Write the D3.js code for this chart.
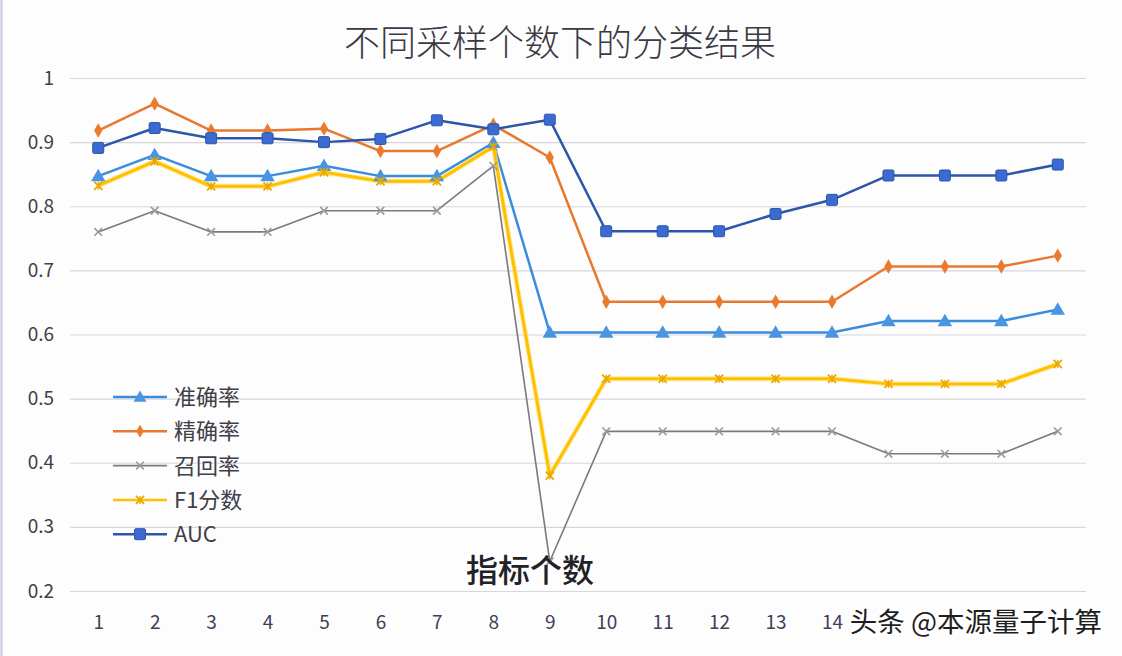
<!DOCTYPE html>
<html><head><meta charset="utf-8">
<script src="https://cdn.jsdelivr.net/npm/d3@7"></script>
<style>
html,body{margin:0;padding:0;background:#fdfdfe;}
svg{display:block;}
text{font-family:"Noto Sans CJK SC","Noto Sans",sans-serif;}
</style></head><body>
<svg id="chart" width="1122" height="656"></svg>
<script>
const categories = [1,2,3,4,5,6,7,8,9,10,11,12,13,14,15,16,17,18];
const xTickLabels = [1,2,3,4,5,6,7,8,9,10,11,12,13,14];
const yTicks = [0.2,0.3,0.4,0.5,0.6,0.7,0.8,0.9,1];
const seriesNames = ["准确率","精确率","召回率","F1分数","AUC"];
const accuracy  = [0.847,0.880,0.847,0.847,0.863,0.847,0.847,0.899,0.603,0.603,0.603,0.603,0.603,0.603,0.621,0.621,0.621,0.639];
const precision = [0.918,0.960,0.918,0.918,0.921,0.886,0.886,0.927,0.876,0.651,0.651,0.651,0.651,0.651,0.706,0.706,0.706,0.723];
const recall    = [0.760,0.793,0.760,0.760,0.793,0.793,0.793,0.863,0.246,0.449,0.449,0.449,0.449,0.449,0.414,0.414,0.414,0.449];
const f1        = [0.832,0.870,0.831,0.831,0.853,0.839,0.839,0.893,0.380,0.531,0.531,0.531,0.531,0.531,0.523,0.523,0.523,0.554];
const auc       = [0.891,0.922,0.906,0.906,0.900,0.905,0.934,0.920,0.935,0.761,0.761,0.761,0.788,0.810,0.848,0.848,0.848,0.865];
const title = "不同采样个数下的分类结果";
const xTitle = "指标个数";
const watermark = "头条 @本源量子计算";

const series = [
  {name:seriesNames[0], values:accuracy,  line:"#3b8ddb", fill:"#4a95e3", marker:"triangle", w:2.5},
  {name:seriesNames[1], values:precision, line:"#e8782f", fill:"#ea7a2c", marker:"diamond",  w:2.5},
  {name:seriesNames[2], values:recall,    line:"#7a7a7a", fill:"#9a9a9a", marker:"x",        w:1.6},
  {name:seriesNames[3], values:f1,        line:"#ffc000", fill:"#ffc000", marker:"star",     w:3},
  {name:seriesNames[4], values:auc,       line:"#2c56a8", fill:"#3a6ad2", marker:"square",   w:2.5}
];

const svg = d3.select("#chart");
svg.append("rect").attr("x",0).attr("y",0).attr("width",1122).attr("height",656).attr("fill","#fdfdfe");
svg.append("line").attr("x1",1.5).attr("x2",1.5).attr("y1",0).attr("y2",656).attr("stroke","#c9c6dc").attr("stroke-width",2);

const x = d3.scalePoint().domain(categories).range([70,1086]).padding(0.5);
const y = d3.scaleLinear().domain([0.2,1]).range([591,78]);

// gridlines
const yAxis = d3.axisLeft(y).tickValues(yTicks).tickSize(-(1086-70)).tickFormat(d=>d3.format("")(+d.toFixed(1)));
const gy = svg.append("g").attr("transform","translate(70,0)").call(yAxis);
gy.select(".domain").remove();
gy.selectAll(".tick line").attr("stroke","#d6d6de").attr("stroke-width",1.2);
gy.selectAll(".tick text").attr("x",-16).attr("fill","#404048").attr("font-size",19).attr("font-family","'Noto Sans','Open Sans',sans-serif");

// x axis
const xAxis = d3.axisBottom(x).tickValues(xTickLabels).tickSize(0).tickPadding(0);
const gx = svg.append("g").attr("transform","translate(0,622)").call(xAxis);
gx.select(".domain").remove();
gx.selectAll(".tick text").attr("dy","0.35em").attr("fill","#404055").attr("font-size",19).attr("font-family","'Noto Sans','Open Sans',sans-serif");

// title
svg.append("text").attr("x",560).attr("y",56).attr("text-anchor","middle")
  .attr("font-size",36).attr("font-weight",300).attr("fill","#3a3a44").text(title);

function drawMarker(g, type, cx, cy, color, s){
  if(type==="triangle"){
    g.append("path").attr("d",d3.symbol(d3.symbolTriangle, s*s*0.9)()).attr("transform",`translate(${cx},${cy+1})`).attr("fill",color);
  } else if(type==="diamond"){
    g.append("path").attr("d",d3.symbol(d3.symbolDiamond, s*s*0.6)()).attr("transform",`translate(${cx},${cy})`).attr("fill",color);
  } else if(type==="square"){
    g.append("rect").attr("x",cx-5.5).attr("y",cy-5.5).attr("width",11).attr("height",11).attr("rx",1.5)
      .attr("fill",color).attr("stroke","#2c56a8").attr("stroke-width",1);
  } else if(type==="x"){
    g.append("path").attr("d",d3.symbol(d3.symbolX, 40)()).attr("transform",`translate(${cx},${cy})`).attr("stroke",color).attr("stroke-width",1.6).attr("fill","none");
  } else if(type==="star"){
    g.append("path").attr("d",d3.symbol(d3.symbolX, 45)()).attr("transform",`translate(${cx},${cy})`).attr("stroke","#e8a800").attr("stroke-width",1.8).attr("fill","none");
    g.append("path").attr("d",`M${cx},${cy-4}V${cy+4}`).attr("stroke","#e8a800").attr("stroke-width",1.4);
  }
}

const lineGen = d3.line().x((d,i)=>x(categories[i])).y(d=>y(d));
const gl = svg.append("g");
series.forEach(s=>{
  if(s.marker==="star"){
    gl.append("path").attr("d",lineGen(s.values)).attr("fill","none").attr("stroke","#ffe27a").attr("stroke-width",5).attr("stroke-linejoin","round").attr("opacity",0.7);
  }
  gl.append("path").attr("d",lineGen(s.values)).attr("fill","none").attr("stroke",s.line).attr("stroke-width",s.w).attr("stroke-linejoin","round");
});
series.forEach(s=>{
  const g = svg.append("g");
  s.values.forEach((v,i)=>drawMarker(g, s.marker, x(categories[i]), y(v), s.fill, 10));
});

// legend
const lg = svg.append("g");
series.forEach((s,i)=>{
  const cy = 397 + i*34.3;
  lg.append("line").attr("x1",113).attr("x2",167).attr("y1",cy).attr("y2",cy).attr("stroke",s.line).attr("stroke-width",s.w===3?2.5:s.w);
  drawMarker(lg, s.marker, 140, cy, s.fill, 9);
  lg.append("text").attr("x",174).attr("y",cy).attr("dy","0.36em").attr("font-size",22).attr("fill","#404048").text(s.name);
});

// x-axis title
svg.append("text").attr("x",530).attr("y",570).attr("dy","0.36em").attr("text-anchor","middle")
  .attr("font-size",32).attr("font-weight",500).attr("fill","#222226").text(xTitle);

// watermark
svg.append("text").attr("x",1102).attr("y",622).attr("dy","0.36em").attr("text-anchor","end")
  .attr("font-size",27.5).attr("fill","#1e1e22").attr("stroke","#ffffff").attr("stroke-width",5)
  .attr("paint-order","stroke").attr("stroke-linejoin","round").text(watermark);
</script>
</body></html>
